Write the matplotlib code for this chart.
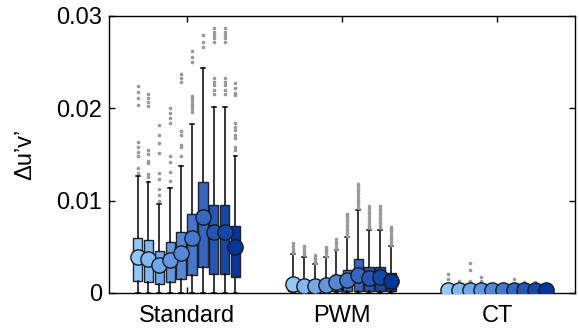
import matplotlib
matplotlib.use("Agg")
import matplotlib.pyplot as plt

plt.rcParams["font.family"] = ["Liberation Sans", "DejaVu Sans"]

groups = ["Standard", "PWM", "CT"]

colors = ["#93c8fa", "#80b9f5", "#70a8eb", "#6397e1", "#5487d7",
          "#4577cc", "#3567c2", "#2556b5", "#1547a9", "#05369c"]

# Standard
std_med = [0.0039, 0.0037, 0.0030, 0.0036, 0.0043, 0.0060, 0.0082, 0.0066, 0.0066, 0.0050]
std_q1 = [0.0013, 0.0012, 0.0010, 0.0012, 0.0015, 0.0019, 0.0028, 0.0021, 0.0021, 0.0017]
std_q3 = [0.0060, 0.0057, 0.0046, 0.0055, 0.0066, 0.0086, 0.0120, 0.0095, 0.0095, 0.0072]
std_hi = [0.0127, 0.0120, 0.0096, 0.0114, 0.0137, 0.0183, 0.0244, 0.0201, 0.0201, 0.0148]
std_lo = [0, 0, 0, 0, 0, 0, 0, 0, 0, 0]
std_fliers = [
    [0.0130, 0.0135, 0.0148, 0.0153, 0.0158, 0.0163, 0.0204, 0.0211, 0.0218, 0.0224],
    [0.0126, 0.0129, 0.0141, 0.0143, 0.0151, 0.0155, 0.0203, 0.0207, 0.0211, 0.0216],
    [0.0100, 0.0106, 0.0113, 0.0123, 0.0130, 0.0152, 0.0162, 0.0171, 0.0182],
    [0.0121, 0.0131, 0.0142, 0.0148, 0.0184, 0.0189, 0.0195, 0.0200],
    [0.0148, 0.0158, 0.0160, 0.0171, 0.0175, 0.0229, 0.0233, 0.0237],
    [0.0196, 0.0199, 0.0202, 0.0205, 0.0208, 0.0211, 0.0213, 0.0250, 0.0256, 0.0262],
    [0.0266, 0.0272, 0.0279],
    [0.0216, 0.0220, 0.0225, 0.0229, 0.0233, 0.0272, 0.0276, 0.0279, 0.0283, 0.0287],
    [0.0216, 0.0220, 0.0225, 0.0229, 0.0233, 0.0272, 0.0276, 0.0279, 0.0283, 0.0287],
    [0.0155, 0.0158, 0.0168, 0.0171, 0.0176, 0.0180, 0.0184, 0.0214, 0.0217, 0.0222, 0.0227],
]

# PWM
pwm_med = [0.0010, 0.0008, 0.0008, 0.0009, 0.0012, 0.0014, 0.0020, 0.0016, 0.0017, 0.0013]
pwm_q1 = [0.0002, 0.0002, 0.0002, 0.0002, 0.0002, 0.0002, 0.0002, 0.0002, 0.0002, 0.0002]
pwm_q3 = [0.0013, 0.0012, 0.0012, 0.0013, 0.0020, 0.0025, 0.0037, 0.0028, 0.0028, 0.0022]
pwm_hi = [0.0042, 0.0039, 0.0031, 0.0039, 0.0047, 0.0061, 0.0090, 0.0068, 0.0068, 0.0051]
pwm_lo = [0, 0, 0, 0, 0, 0, 0, 0, 0, 0]
pwm_fliers = [
    [0.0043, 0.0046, 0.0048, 0.0051, 0.0054],
    [0.0041, 0.0043, 0.0046, 0.0048, 0.0051],
    [0.0032, 0.0034, 0.0037, 0.0039, 0.0041],
    [0.0040, 0.0043, 0.0045, 0.0048, 0.0050],
    [0.0048, 0.0050, 0.0053, 0.0055, 0.0058],
    [0.0062, 0.0065, 0.0068, 0.0071, 0.0074, 0.0077, 0.0080, 0.0083, 0.0086],
    [0.0092, 0.0095, 0.0098, 0.0101, 0.0104, 0.0107, 0.0110, 0.0113, 0.0116, 0.0118],
    [0.0070, 0.0073, 0.0076, 0.0079, 0.0082, 0.0085, 0.0088, 0.0091, 0.0094],
    [0.0070, 0.0073, 0.0076, 0.0079, 0.0082, 0.0085, 0.0088, 0.0091, 0.0094],
    [0.0052, 0.0055, 0.0058, 0.0061, 0.0064, 0.0067, 0.0069, 0.0071],
]

# CT
ct_med = [0.0003, 0.0003, 0.0003, 0.0003, 0.0003, 0.0003, 0.0003, 0.0003, 0.0003, 0.0003]
ct_q1 = [0.0001, 0.0001, 0.0001, 0.0001, 0.0001, 0.0001, 0.0001, 0.0001, 0.0001, 0.0001]
ct_q3 = [0.0005, 0.0005, 0.0005, 0.0005, 0.0005, 0.0005, 0.0005, 0.0005, 0.0005, 0.0005]
ct_hi = [0.0009, 0.0009, 0.0009, 0.0009, 0.0009, 0.0009, 0.0009, 0.0009, 0.0009, 0.0009]
ct_lo = [0, 0, 0, 0, 0, 0, 0, 0, 0, 0]
ct_fliers = [
    [0.0015, 0.0021],
    [0.0013],
    [0.0013, 0.0025, 0.0033],
    [0.0013, 0.0017],
    [],
    [],
    [0.0015],
    [0.0012],
    [0.0012],
    [],
]

all_stats = [
    (std_med, std_q1, std_q3, std_lo, std_hi, std_fliers),
    (pwm_med, pwm_q1, pwm_q3, pwm_lo, pwm_hi, pwm_fliers),
    (ct_med, ct_q1, ct_q3, ct_lo, ct_hi, ct_fliers),
]

fig = plt.figure(figsize=(5.79, 3.32), dpi=100)
ax = fig.add_axes([0.188, 0.1175, 0.805, 0.8345])

step = 0.07
width = 0.06
for g, (med, q1, q3, lo, hi, fl) in enumerate(all_stats):
    n = len(med)
    pos = [g + 1 + (i - (n - 1) / 2) * step for i in range(n)]
    stats = [dict(med=med[i], q1=q1[i], q3=q3[i], whislo=lo[i], whishi=hi[i],
                  fliers=fl[i]) for i in range(n)]
    bp = ax.bxp(stats, positions=pos, widths=width, patch_artist=True,
                showfliers=True, manage_ticks=False,
                boxprops=dict(edgecolor="#222222", linewidth=1.0),
                whiskerprops=dict(color="black", linewidth=1.1),
                capprops=dict(color="black", linewidth=1.1),
                medianprops=dict(visible=False),
                flierprops=dict(marker="o", markersize=1.6, markerfacecolor="#999999",
                                markeredgecolor="#999999", linestyle="none"),
                capwidths=0.025)
    for patch, c in zip(bp["boxes"], colors):
        patch.set_facecolor(c)
    for i in range(n):
        ax.plot(pos[i], med[i], "o", markersize=11, markerfacecolor=colors[i],
                markeredgecolor="#1a1a1a", markeredgewidth=1.0, zorder=5 + i * 0.01)

ax.set_xlim(0.5, 3.5)
ax.set_ylim(0, 0.03)
ax.set_xticks([1, 2, 3])
ax.set_xticklabels(groups)
ax.set_yticks([0, 0.01, 0.02, 0.03])
ax.set_yticklabels(["0", "0.01", "0.02", "0.03"])
ax.tick_params(direction="in", length=4, width=1, labelsize=17, top=True, right=True)
ax.tick_params(axis="x", pad=9)
ax.tick_params(axis="y", pad=5)
ax.set_ylabel("Δu’v’", fontsize=17)
ax.yaxis.set_label_coords(-0.155, 0.5)
for s in ax.spines.values():
    s.set_linewidth(1.0)

fig.savefig("out.png", dpi=100)
